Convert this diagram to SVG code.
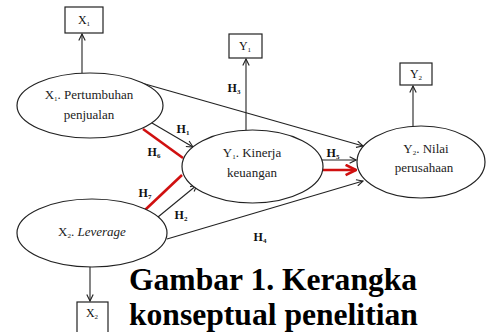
<svg xmlns="http://www.w3.org/2000/svg" width="487" height="332" viewBox="0 0 487 332">
<style>
.node ellipse,.node rect{fill:#fff;stroke:#222;stroke-width:1.2}
.t{font-family:"Liberation Serif","Times New Roman",serif;font-size:13px;fill:#222;text-anchor:middle}
.b{font-family:"Liberation Serif","Times New Roman",serif;font-size:12px;fill:#111;text-anchor:middle}
.h{font-family:"Liberation Serif","Times New Roman",serif;font-size:12px;font-weight:bold;fill:#111;text-anchor:middle}
.s{font-size:7px}
.ln{stroke:#222;stroke-width:1.1;fill:none}
.red{stroke:#d01010;stroke-width:2.6;fill:none}
.cap{font-family:"Liberation Serif","Times New Roman",serif;font-size:31.6px;font-weight:bold;fill:#000}
</style>
<defs>
<marker id="ar" viewBox="0 0 10 10" refX="9" refY="5" markerWidth="8" markerHeight="8" markerUnits="userSpaceOnUse" orient="auto">
<path d="M1,1 L9,5 L1,9" fill="none" stroke="#222" stroke-width="1.4"/>
</marker>
<marker id="arr" viewBox="0 0 10 10" refX="9" refY="5" markerWidth="5" markerHeight="5" orient="auto">
<path d="M1,1 L9,5 L1,9" fill="none" stroke="#d01010" stroke-width="2"/>
</marker>
</defs>
<g id="connectors">
<line class="ln" x1="82" y1="73" x2="82" y2="34" marker-end="url(#ar)"/>
<line class="ln" x1="246" y1="130" x2="246" y2="59" marker-end="url(#ar)"/>
<line class="ln" x1="413" y1="126" x2="413" y2="86" marker-end="url(#ar)"/>
<line class="ln" x1="90" y1="267" x2="90" y2="301" marker-end="url(#ar)"/>
<line class="ln" x1="138" y1="82" x2="363" y2="146" marker-end="url(#ar)"/>
<line class="ln" x1="152" y1="123" x2="193" y2="147" marker-end="url(#ar)"/>
<line class="ln" x1="158" y1="217" x2="197" y2="185" marker-end="url(#ar)"/>
<line class="ln" x1="167" y1="239" x2="363" y2="181" marker-end="url(#ar)"/>
<line class="ln" x1="321" y1="160" x2="356" y2="160" marker-end="url(#ar)"/>
<line class="red" x1="143" y1="129" x2="183" y2="158"/>
<line class="red" x1="145" y1="210" x2="182" y2="175"/>
<line class="red" x1="322" y1="170" x2="356" y2="170" marker-end="url(#arr)"/>
<text class="h" x="183" y="133">H<tspan class="s" dy="2">1</tspan></text>
<text class="h" x="154" y="156">H<tspan class="s" dy="2">6</tspan></text>
<text class="h" x="145" y="197">H<tspan class="s" dy="2">7</tspan></text>
<text class="h" x="181" y="219">H<tspan class="s" dy="2">2</tspan></text>
<text class="h" x="234" y="92">H<tspan class="s" dy="2">3</tspan></text>
<text class="h" x="260" y="241">H<tspan class="s" dy="2">4</tspan></text>
<text class="h" x="333" y="157">H<tspan class="s" dy="2">5</tspan></text>
</g>
<g id="boxX1" class="node"><rect x="65" y="7" width="38" height="26"/><text class="b" x="84" y="24">X<tspan class="s" dy="2">1</tspan></text></g>
<g id="boxY1" class="node"><rect x="229" y="34" width="33" height="24"/><text class="b" x="245" y="50">Y<tspan class="s" dy="2">1</tspan></text></g>
<g id="boxY2" class="node"><rect x="400" y="63" width="32" height="22"/><text class="b" x="416" y="78">Y<tspan class="s" dy="2">2</tspan></text></g>
<g id="boxX2" class="node"><rect x="77" y="302" width="31" height="40"/><text class="b" x="92" y="317">X<tspan class="s" dy="2">2</tspan></text></g>
<g id="X1" class="node"><ellipse cx="90" cy="105.5" rx="73" ry="32.5"/>
<text class="t" x="89" y="99">X<tspan class="s" dy="2">1</tspan><tspan dy="-2">. Pertumbuhan</tspan></text>
<text class="t" x="89" y="119">penjualan</text></g>
<g id="Y1" class="node"><ellipse cx="252.5" cy="166.5" rx="70.5" ry="36.5"/>
<text class="t" x="252" y="157">Y<tspan class="s" dy="2">1</tspan><tspan dy="-2">. Kinerja</tspan></text>
<text class="t" x="252" y="177">keuangan</text></g>
<g id="Y2" class="node"><ellipse cx="421" cy="162" rx="64" ry="36"/>
<text class="t" x="426" y="153">Y<tspan class="s" dy="2">2</tspan><tspan dy="-2">. Nilai</tspan></text>
<text class="t" x="424" y="172">perusahaan</text></g>
<g id="X2" class="node"><ellipse cx="92" cy="233" rx="75" ry="34"/>
<text class="t" x="92" y="236">X<tspan class="s" dy="2">2</tspan><tspan dy="-2">. <tspan font-style="italic">Leverage</tspan></tspan></text></g>
<text class="cap" x="129" y="290">Gambar 1. Kerangka</text>
<text class="cap" x="129" y="325">konseptual penelitian</text>
</svg>
